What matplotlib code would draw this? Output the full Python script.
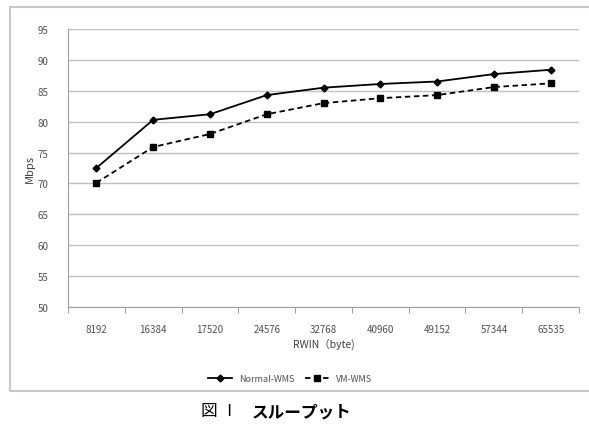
import numpy as np
import matplotlib.pyplot as plt
from matplotlib.patches import Rectangle

plt.rcParams['font.family'] = ['Noto Sans CJK JP', 'DejaVu Sans']

rwin = ['8192', '16384', '17520', '24576', '32768', '40960', '49152', '57344', '65535']
normal_wms = [72.5, 80.3, 81.2, 84.3, 85.5, 86.1, 86.5, 87.7, 88.4]
vm_wms = [70.1, 75.9, 78.0, 81.2, 83.0, 83.8, 84.3, 85.6, 86.2]

W, H = 589, 431
fig = plt.figure(figsize=(W / 100, H / 100), dpi=100)

# chart frame
fig.patches.append(Rectangle((10 / W, 1 - 392 / H), 600 / W, 384 / H,
                             transform=fig.transFigure, fill=False,
                             edgecolor='#c8c8c8', lw=1.5))

ax = fig.add_axes([68 / W, 1 - 308 / H, 511 / W, 278 / H])
x = np.arange(len(rwin))
ax.plot(x, normal_wms, color='black', lw=1.3, marker='D', ms=3.5, label='Normal-WMS')
ax.plot(x, vm_wms, color='black', lw=1.3, ls=(0, (3, 2)), marker='s', ms=5, label='VM-WMS')

ax.set_xlim(-0.5, len(rwin) - 0.5)
ax.set_ylim(50, 95)
ax.set_yticks(range(50, 96, 5))
ax.set_xticks(x)
ax.set_xticklabels(rwin)
ax.set_xticks(np.arange(-0.5, len(rwin), 1), minor=True)
ax.tick_params(axis='x', which='major', length=0, pad=12, labelsize=7, labelcolor='#505050')
ax.tick_params(axis='x', which='minor', length=4, color='#909090', direction='out')
ax.tick_params(axis='y', length=0, pad=14, labelsize=7, labelcolor='#505050')
ax.grid(axis='y', color='#c0c0c0', lw=1)
ax.set_axisbelow(True)
for s in ['top', 'right']:
    ax.spines[s].set_visible(False)
for s in ['left', 'bottom']:
    ax.spines[s].set_color('#a0a0a0')

ax.set_ylabel('Mbps', fontsize=8, color='#404040', labelpad=2)
ax.set_xlabel('RWIN（byte)', fontsize=7.5, color='#404040', labelpad=4)

fig.legend(loc='center', bbox_to_anchor=(290 / W, 1 - 380 / H), ncol=2, frameon=False,
           fontsize=6.5, handlelength=2.6, columnspacing=1.2, labelcolor='#505050')

fig.text(238 / W, 1 - 412 / H, '図 Ⅰ', ha='right', va='center', fontsize=12)
fig.text(252 / W, 1 - 412 / H, 'スループット', ha='left', va='center',
         fontsize=12, fontweight='bold')

fig.savefig('out.png', dpi=100)
